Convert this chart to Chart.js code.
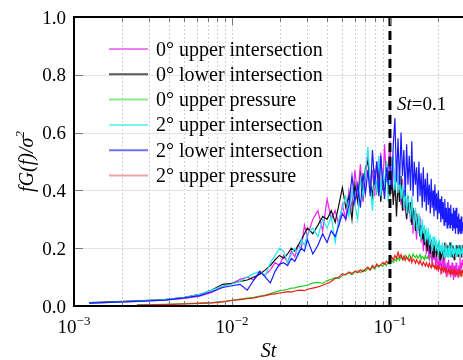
<!DOCTYPE html>
<html>
<head>
<meta charset="utf-8">
<script src="https://cdn.jsdelivr.net/npm/chart.js@4.4.1/dist/chart.umd.min.js"></script>
<style>
body { margin: 0; background: #fff; }
</style>
</head>
<body>
<canvas id="myChart" width="463" height="360"></canvas>
<script>
// Strouhal numbers (x values shared by all series)
const st = [
    0.00125,0.0025,0.00375,0.005,0.00625,0.0075,0.00875,0.01,
    0.01125,0.0125,0.01375,0.015,0.01625,0.0175,0.01875,0.02,
    0.02125,0.0225,0.02375,0.025,0.02625,0.0275,0.02875,0.03,
    0.0325,0.035,0.0375,0.04,0.0425,0.045,0.0475,0.05,
    0.0525,0.055,0.0575,0.06,0.0625,0.065,0.0675,0.07,
    0.0725,0.075,0.0775,0.08,0.0825,0.085,0.0875,0.09,
    0.0925,0.095,0.0975,0.1,0.1025,0.105,0.1075,0.11,
    0.1125,0.115,0.1175,0.12,0.1225,0.125,0.1275,0.13,
    0.1325,0.135,0.1375,0.14,0.1425,0.145,0.1475,0.15,
    0.1525,0.155,0.1575,0.16,0.1625,0.165,0.1675,0.17,
    0.1725,0.175,0.1775,0.18,0.1825,0.185,0.1875,0.19,
    0.1925,0.195,0.1975,0.2,0.2025,0.205,0.2075,0.21,
    0.2125,0.215,0.2175,0.22,0.2225,0.225,0.2275,0.23,
    0.2325,0.235,0.2375,0.24,0.2425,0.245,0.2475,0.25,
    0.2525,0.255,0.2575,0.26,0.2625,0.265,0.2675,0.27,
    0.2725,0.275,0.2775,0.28,0.2825,0.285,0.2875,0.29
];

// 0° upper intersection
const upper0 = [
    0.010,0.016,0.020,0.026,0.034,0.048,0.068,0.078,
    0.092,0.100,0.090,0.115,0.108,0.125,0.150,0.140,
    0.175,0.150,0.190,0.170,0.210,0.200,0.280,0.240,
    0.300,0.330,0.260,0.370,0.300,0.330,0.280,0.350,
    0.300,0.400,0.340,0.470,0.380,0.490,0.360,0.440,
    0.520,0.400,0.470,0.380,0.500,0.420,0.530,0.400,
    0.560,0.430,0.480,0.570,0.420,0.500,0.380,0.470,
    0.400,0.450,0.350,0.440,0.330,0.400,0.300,0.380,
    0.340,0.290,0.370,0.250,0.330,0.280,0.230,0.300,
    0.260,0.310,0.220,0.280,0.190,0.250,0.230,0.180,
    0.240,0.200,0.160,0.220,0.180,0.140,0.200,0.160,
    0.190,0.130,0.170,0.150,0.120,0.180,0.140,0.160,
    0.110,0.150,0.130,0.170,0.120,0.140,0.100,0.150,
    0.130,0.160,0.110,0.140,0.100,0.130,0.150,0.120,
    0.090,0.140,0.120,0.100,0.150,0.110,0.130,0.100,
    0.140,0.120,0.170,0.110,0.150,0.130,0.160,0.140
];

// 0° lower intersection
const lower0 = [
    0.012,0.018,0.022,0.030,0.040,0.056,0.075,0.078,
    0.085,0.090,0.100,0.110,0.125,0.140,0.160,0.175,
    0.165,0.180,0.200,0.190,0.210,0.230,0.250,0.270,
    0.250,0.280,0.310,0.300,0.330,0.290,0.350,0.410,
    0.340,0.380,0.300,0.420,0.360,0.450,0.380,0.480,
    0.500,0.430,0.380,0.460,0.400,0.480,0.360,0.450,
    0.400,0.500,0.430,0.380,0.460,0.350,0.440,0.310,
    0.420,0.360,0.450,0.330,0.400,0.350,0.300,0.380,
    0.320,0.360,0.280,0.340,0.300,0.260,0.320,0.270,
    0.300,0.240,0.280,0.230,0.260,0.210,0.250,0.220,
    0.190,0.240,0.210,0.180,0.230,0.200,0.170,0.220,
    0.190,0.210,0.170,0.200,0.180,0.220,0.160,0.200,
    0.180,0.210,0.170,0.190,0.220,0.170,0.200,0.180,
    0.210,0.170,0.190,0.220,0.180,0.200,0.170,0.210,
    0.190,0.160,0.200,0.180,0.210,0.170,0.190,0.200,
    0.170,0.210,0.180,0.200,0.170,0.190,0.210,0.180
];

// 0° upper pressure
const press0 = [
    null,0.004,0.006,0.008,0.010,0.012,0.015,0.020,
    0.024,0.027,0.030,0.034,0.038,0.043,0.048,0.053,
    0.055,0.058,0.062,0.063,0.066,0.068,0.070,0.072,
    0.080,0.082,0.078,0.088,0.092,0.098,0.095,0.105,
    0.110,0.114,0.108,0.118,0.122,0.115,0.125,0.120,
    0.130,0.124,0.135,0.128,0.140,0.134,0.142,0.138,
    0.148,0.140,0.152,0.145,0.158,0.150,0.162,0.155,
    0.168,0.158,0.172,0.165,0.160,0.175,0.168,0.162,
    0.178,0.170,0.165,0.180,0.172,0.168,0.176,0.165,
    0.170,0.178,0.162,0.172,0.168,0.160,0.175,0.165,
    0.165,0.175,0.160,0.170,0.178,0.165,0.172,0.180,
    0.168,0.158,0.165,0.150,0.145,0.155,0.140,0.150,
    0.142,0.135,0.148,0.138,0.130,0.142,0.135,0.128,
    0.138,0.130,0.125,0.135,0.128,0.120,0.132,0.125,
    0.118,0.128,0.122,0.115,0.125,0.118,0.112,0.122,
    0.116,0.124,0.118,0.110,0.120,0.114,0.122,0.116
];

// 2° upper intersection
const upper2 = [
    0.010,0.017,0.022,0.030,0.040,0.056,0.068,0.076,
    0.085,0.100,0.112,0.120,0.105,0.150,0.175,0.200,
    0.190,0.150,0.180,0.200,0.175,0.230,0.210,0.250,
    0.270,0.240,0.300,0.270,0.310,0.220,0.300,0.340,
    0.380,0.310,0.400,0.350,0.300,0.440,0.380,0.460,
    0.550,0.420,0.330,0.450,0.400,0.520,0.380,0.460,
    0.420,0.500,0.360,0.470,0.430,0.520,0.400,0.480,
    0.390,0.460,0.370,0.420,0.340,0.410,0.320,0.380,
    0.350,0.300,0.380,0.310,0.270,0.340,0.290,0.250,
    0.320,0.270,0.230,0.300,0.250,0.280,0.220,0.260,
    0.230,0.270,0.210,0.250,0.220,0.190,0.240,0.210,
    0.230,0.190,0.220,0.200,0.180,0.230,0.190,0.210,
    0.180,0.220,0.190,0.170,0.210,0.180,0.200,0.170,
    0.200,0.180,0.210,0.170,0.190,0.220,0.180,0.200,
    0.170,0.200,0.180,0.210,0.190,0.170,0.200,0.180,
    0.210,0.180,0.200,0.170,0.190,0.210,0.180,0.200
];

// 2° lower intersection
const lower2 = [
    0.010,0.016,0.020,0.028,0.036,0.050,0.064,0.070,
    0.075,0.055,0.090,0.120,0.100,0.080,0.120,0.145,
    0.150,0.140,0.165,0.155,0.180,0.200,0.190,0.230,
    0.180,0.210,0.250,0.220,0.260,0.240,0.280,0.320,
    0.300,0.350,0.450,0.360,0.420,0.340,0.460,0.390,
    0.470,0.380,0.540,0.420,0.500,0.380,0.520,0.430,
    0.370,0.480,0.420,0.520,0.400,0.560,0.650,0.430,
    0.580,0.420,0.600,0.450,0.540,0.380,0.560,0.420,
    0.520,0.400,0.570,0.380,0.500,0.420,0.480,0.360,
    0.500,0.380,0.460,0.340,0.480,0.360,0.440,0.330,
    0.460,0.350,0.420,0.320,0.440,0.340,0.400,0.310,
    0.420,0.330,0.390,0.300,0.400,0.320,0.370,0.290,
    0.380,0.300,0.360,0.280,0.370,0.290,0.340,0.270,
    0.360,0.280,0.340,0.270,0.350,0.280,0.320,0.260,
    0.340,0.270,0.330,0.250,0.340,0.270,0.310,0.250,
    0.320,0.260,0.300,0.250,0.310,0.250,0.290,0.260
];

// 2° upper pressure
const press2 = [
    null,0.003,0.005,0.007,0.009,0.011,0.014,0.019,
    0.022,0.025,0.028,0.032,0.036,0.040,0.042,0.045,
    0.047,0.050,0.048,0.052,0.054,0.055,0.053,0.058,
    0.062,0.066,0.072,0.078,0.085,0.095,0.100,0.112,
    0.108,0.118,0.112,0.120,0.115,0.125,0.118,0.128,
    0.135,0.125,0.140,0.132,0.145,0.138,0.142,0.150,
    0.145,0.155,0.148,0.160,0.170,0.160,0.175,0.165,
    0.186,0.168,0.178,0.160,0.172,0.158,0.170,0.162,
    0.155,0.168,0.150,0.162,0.158,0.148,0.160,0.152,
    0.145,0.158,0.148,0.140,0.152,0.145,0.138,0.150,
    0.142,0.135,0.148,0.138,0.132,0.145,0.136,0.140,
    0.130,0.142,0.128,0.136,0.125,0.138,0.130,0.122,
    0.134,0.126,0.120,0.132,0.124,0.118,0.128,0.122,
    0.115,0.126,0.120,0.112,0.124,0.118,0.110,0.122,
    0.116,0.125,0.112,0.120,0.114,0.108,0.120,0.115,
    0.110,0.122,0.116,0.108,0.118,0.112,0.120,0.114
];

const names = ['0° upper intersection', '0° lower intersection', '0° upper pressure',
               '2° upper intersection', '2° lower intersection', '2° upper pressure'];
const xTicks = [0.001,0.002,0.003,0.004,0.005,0.006,0.007,0.008,0.009,
                0.01,0.02,0.03,0.04,0.05,0.06,0.07,0.08,0.09,
                0.1,0.2];
const xMajor = [0.001, 0.01, 0.1];
const xExp = ['−3', '−2', '−1'];
const yTicks = [0, 0.2, 0.4, 0.6, 0.8, 1.0];
const yLabels = ['0.0', '0.2', '0.4', '0.6', '0.8', '1.0'];
const stMark = 0.1;

const serif = '"Liberation Serif", "Times New Roman", serif';

function pts(arr) {
    return st.map((x, i) => ({x: x, y: arr[i]}));
}

function hline(ctx, x1, y1, x2, y2) {
    ctx.beginPath();
    ctx.moveTo(x1, y1);
    ctx.lineTo(x2, y2);
    ctx.stroke();
}

// draws a list of [text, font, dy] pieces one after another, centred on x
function drawRuns(ctx, runs, x, y) {
    let w = 0;
    runs.forEach(r => { ctx.font = r[1]; w += ctx.measureText(r[0]).width; });
    let cx = x - w / 2;
    runs.forEach(r => {
        ctx.font = r[1];
        ctx.fillText(r[0], cx, y + (r[2] || 0));
        cx += ctx.measureText(r[0]).width;
    });
}

const legendColors = ['#f080f0', '#5a5a5a', '#88ea88', '#78f4f4', '#7070f0', '#eea4a4'];

const decorations = {
    id: 'decorations',
    beforeDatasetsDraw(chart) {
        const {ctx, chartArea: a, scales: {x, y}} = chart;
        ctx.save();
        ctx.lineWidth = 1;
        ctx.strokeStyle = '#d2d2d2';
        ctx.setLineDash([2, 2]);
        xTicks.forEach(v => {
            if (v <= 0.001) return;
            const px = Math.round(x.getPixelForValue(v)) + 0.5;
            hline(ctx, px, a.top, px, a.bottom);
        });
        ctx.setLineDash([]);
        ctx.strokeStyle = '#e4e4e4';
        yTicks.forEach(v => {
            if (v == 0 || v == 1) return;
            const py = Math.round(y.getPixelForValue(v)) + 0.5;
            hline(ctx, a.left, py, a.right, py);
        });
        ctx.restore();
    },
    afterDatasetsDraw(chart) {
        const {ctx, chartArea: a, scales: {x, y}} = chart;
        ctx.save();

        // St = 0.1 marker
        const mx = x.getPixelForValue(stMark);
        ctx.strokeStyle = '#000';
        ctx.lineWidth = 3;
        ctx.setLineDash([9, 5]);
        hline(ctx, mx, a.top, mx, a.bottom);
        ctx.setLineDash([]);

        // frame
        ctx.lineWidth = 2;
        hline(ctx, a.left, a.top, a.right, a.top);
        hline(ctx, a.left, a.top - 1, a.left, a.bottom + 1);
        hline(ctx, a.left - 1, a.bottom, a.right, a.bottom);

        // inner tick marks
        ctx.strokeStyle = '#777';
        ctx.lineWidth = 1;
        xTicks.forEach(v => {
            if (v <= 0.001) return;
            const px = Math.round(x.getPixelForValue(v)) + 0.5;
            const len = xMajor.includes(v) ? 7 : 4;
            hline(ctx, px, a.bottom - 1, px, a.bottom - 1 - len);
            hline(ctx, px, a.top + 1, px, a.top + 1 + len);
        });
        yTicks.forEach(v => {
            if (v == 0 || v == 1) return;
            const py = Math.round(y.getPixelForValue(v)) + 0.5;
            hline(ctx, a.left + 1, py, a.left + 9, py);
        });

        // tick labels
        ctx.fillStyle = '#000';
        ctx.textBaseline = 'alphabetic';
        ctx.font = '19px ' + serif;
        ctx.textAlign = 'right';
        yTicks.forEach((v, i) => {
            ctx.fillText(yLabels[i], a.left - 8, y.getPixelForValue(v) + 6.5);
        });
        ctx.textAlign = 'left';
        xMajor.forEach((v, i) => {
            drawRuns(ctx, [['10', '19px ' + serif], [xExp[i], '13px ' + serif, -8]],
                     x.getPixelForValue(v), a.bottom + 27);
        });

        // axis titles
        drawRuns(ctx, [['St', 'italic 20px ' + serif]], (a.left + a.right) / 2, 357);
        ctx.save();
        ctx.translate(27, (a.top + a.bottom) / 2);
        ctx.rotate(-Math.PI / 2);
        drawRuns(ctx, [
            ['fG(f)/σ', 'italic 20px ' + serif],
            ['2', 'italic 13px ' + serif, -9]
        ], 0, 6);
        ctx.restore();

        // St=0.1 label
        ctx.font = 'italic 19px ' + serif;
        ctx.fillText('St', mx + 7, 110);
        const sw = ctx.measureText('St').width;
        ctx.font = '19px ' + serif;
        ctx.fillText('=0.1', mx + 7 + sw, 110);

        // legend
        names.forEach((n, i) => {
            const ly = 49 + i * 25.3;
            ctx.strokeStyle = legendColors[i];
            ctx.lineWidth = 2;
            hline(ctx, 109, ly, 148, ly);
            ctx.fillStyle = '#000';
            ctx.font = '20px ' + serif;
            ctx.fillText(n, 156, ly + 6.5);
        });

        ctx.restore();
    }
};

const ctx = document.getElementById('myChart').getContext('2d');
const myChart = new Chart(ctx, {
    type: 'line',
    data: {
        datasets: [
            {label: names[4], data: pts(lower2), borderColor: '#1a1aff', order: 0},
            {label: names[5], data: pts(press2), borderColor: '#ee1c1c', order: 1},
            {label: names[3], data: pts(upper2), borderColor: '#22eaea', order: 2},
            {label: names[1], data: pts(lower0), borderColor: '#111111', order: 3},
            {label: names[0], data: pts(upper0), borderColor: '#f020f0', order: 4},
            {label: names[2], data: pts(press0), borderColor: '#22cc22', order: 5}
        ]
    },
    options: {
        responsive: false,
        animation: false,
        devicePixelRatio: 1,
        layout: {padding: {left: 0, right: 0, top: 17, bottom: 0}},
        elements: {
            point: {radius: 0},
            line: {borderWidth: 1.2, tension: 0}
        },
        plugins: {
            legend: {display: false},
            tooltip: {enabled: false}
        },
        scales: {
            x: {
                type: 'logarithmic',
                min: 0.001,
                max: 0.29,
                afterBuildTicks: s => { s.ticks = xTicks.map(v => ({value: v})); },
                afterFit: s => { s.height = 54; },
                ticks: {display: false},
                grid: {display: false},
                border: {display: false}
            },
            y: {
                min: 0,
                max: 1,
                afterFit: s => { s.width = 74; },
                ticks: {display: false},
                grid: {display: false},
                border: {display: false}
            }
        }
    },
    plugins: [decorations]
});
</script>
</body>
</html>
